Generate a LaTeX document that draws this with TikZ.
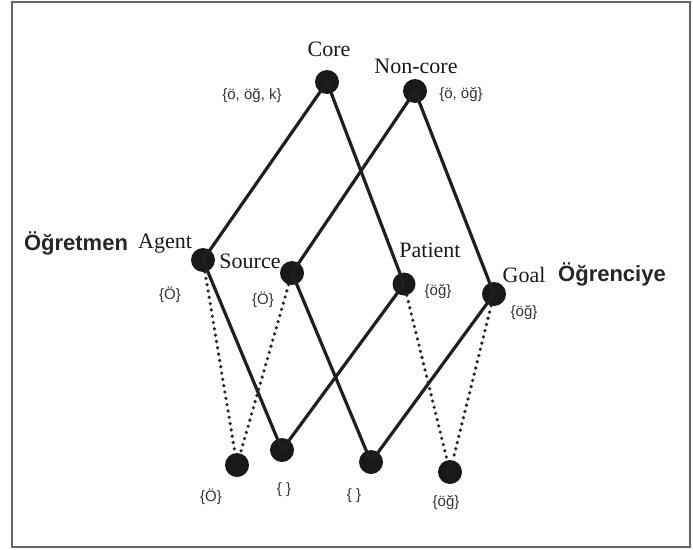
\documentclass[tikz,border=0pt]{standalone}
\usepackage{fontspec}
\setmainfont{Liberation Serif}
\newfontfamily\lsans{Liberation Sans}
\begin{document}
\begin{tikzpicture}[x=1pt,y=-1pt,
  dot/.style={circle,fill=black!90,inner sep=0pt,minimum size=24pt},
  role/.style={inner sep=0pt,font=\fontsize{22}{26}\selectfont,text=black!90},
  setlbl/.style={inner sep=0pt,font=\lsans\fontsize{15}{18}\selectfont,text=black!80},
  trk/.style={inner sep=0pt,font=\lsans\bfseries\fontsize{22}{26}\selectfont,text=black!85},
  solidedge/.style={line width=3.2pt,draw=black!88},
  dotedge/.style={line width=3.6pt,draw=black!85,line cap=round,dash pattern=on 0pt off 6.4pt}]
\useasboundingbox (0,0) rectangle (693,549);
\draw[line width=1.4pt,draw=black!60] (12,2) rectangle (690,547);
% nodes
\node[dot] (core) at (327,82) {};
\node[dot] (noncore) at (415,91) {};
\node[dot] (agent) at (203,260) {};
\node[dot] (source) at (292,273) {};
\node[dot,minimum size=23pt] (patient) at (404,284) {};
\node[dot] (goal) at (494,294) {};
\node[dot] (b1) at (237,465) {};
\node[dot] (b2) at (282,450) {};
\node[dot] (b3) at (371,462) {};
\node[dot] (b4) at (450,472) {};
% edges
\draw[solidedge] (core.center) -- (agent.center);
\draw[solidedge] (core.center) -- (patient.center);
\draw[solidedge] (noncore.center) -- (source.center);
\draw[solidedge] (noncore.center) -- (goal.center);
\draw[solidedge] (agent.center) -- (b2.center);
\draw[solidedge] (patient.center) -- (b2.center);
\draw[solidedge] (source.center) -- (b3.center);
\draw[solidedge] (goal.center) -- (b3.center);
\draw[dotedge] (agent) -- (b1);
\draw[dotedge] (source) -- (b1);
\draw[dotedge] (patient) -- (b4);
\draw[dotedge] (goal) -- (b4);
% labels
\node[role] (lcore) at (329,49) {Core};
\node[role] (lnoncore) at (416,66) {Non-core};
\node[role] (lagent) at (165,244) {Agent};
\node[role] (lsource) at (250,261) {Source};
\node[role] (lpatient) at (430,250) {Patient};
\node[role] (lgoal) at (524,275) {Goal};
\node[trk] (tog) at (76,243) {Öğretmen};
\node[trk] (tong) at (612,274) {Öğrenciye};
\node[setlbl] (scr) at (252,96) {\{ö, öğ, k\}};
\node[setlbl] (snc) at (461,95) {\{ö, öğ\}};
\node[setlbl] (sag) at (170,295) {\{Ö\}};
\node[setlbl] (sso) at (263,300) {\{Ö\}};
\node[setlbl] (spa) at (438,292) {\{öğ\}};
\node[setlbl] (sgo) at (524,313) {\{öğ\}};
\node[setlbl] (sb1) at (211,497) {\{Ö\}};
\node[setlbl] (sb2) at (284,490) {\{ \}};
\node[setlbl] (sb3) at (354,496) {\{ \}};
\node[setlbl] (sb4) at (446,503) {\{öğ\}};
\end{tikzpicture}
\end{document}
